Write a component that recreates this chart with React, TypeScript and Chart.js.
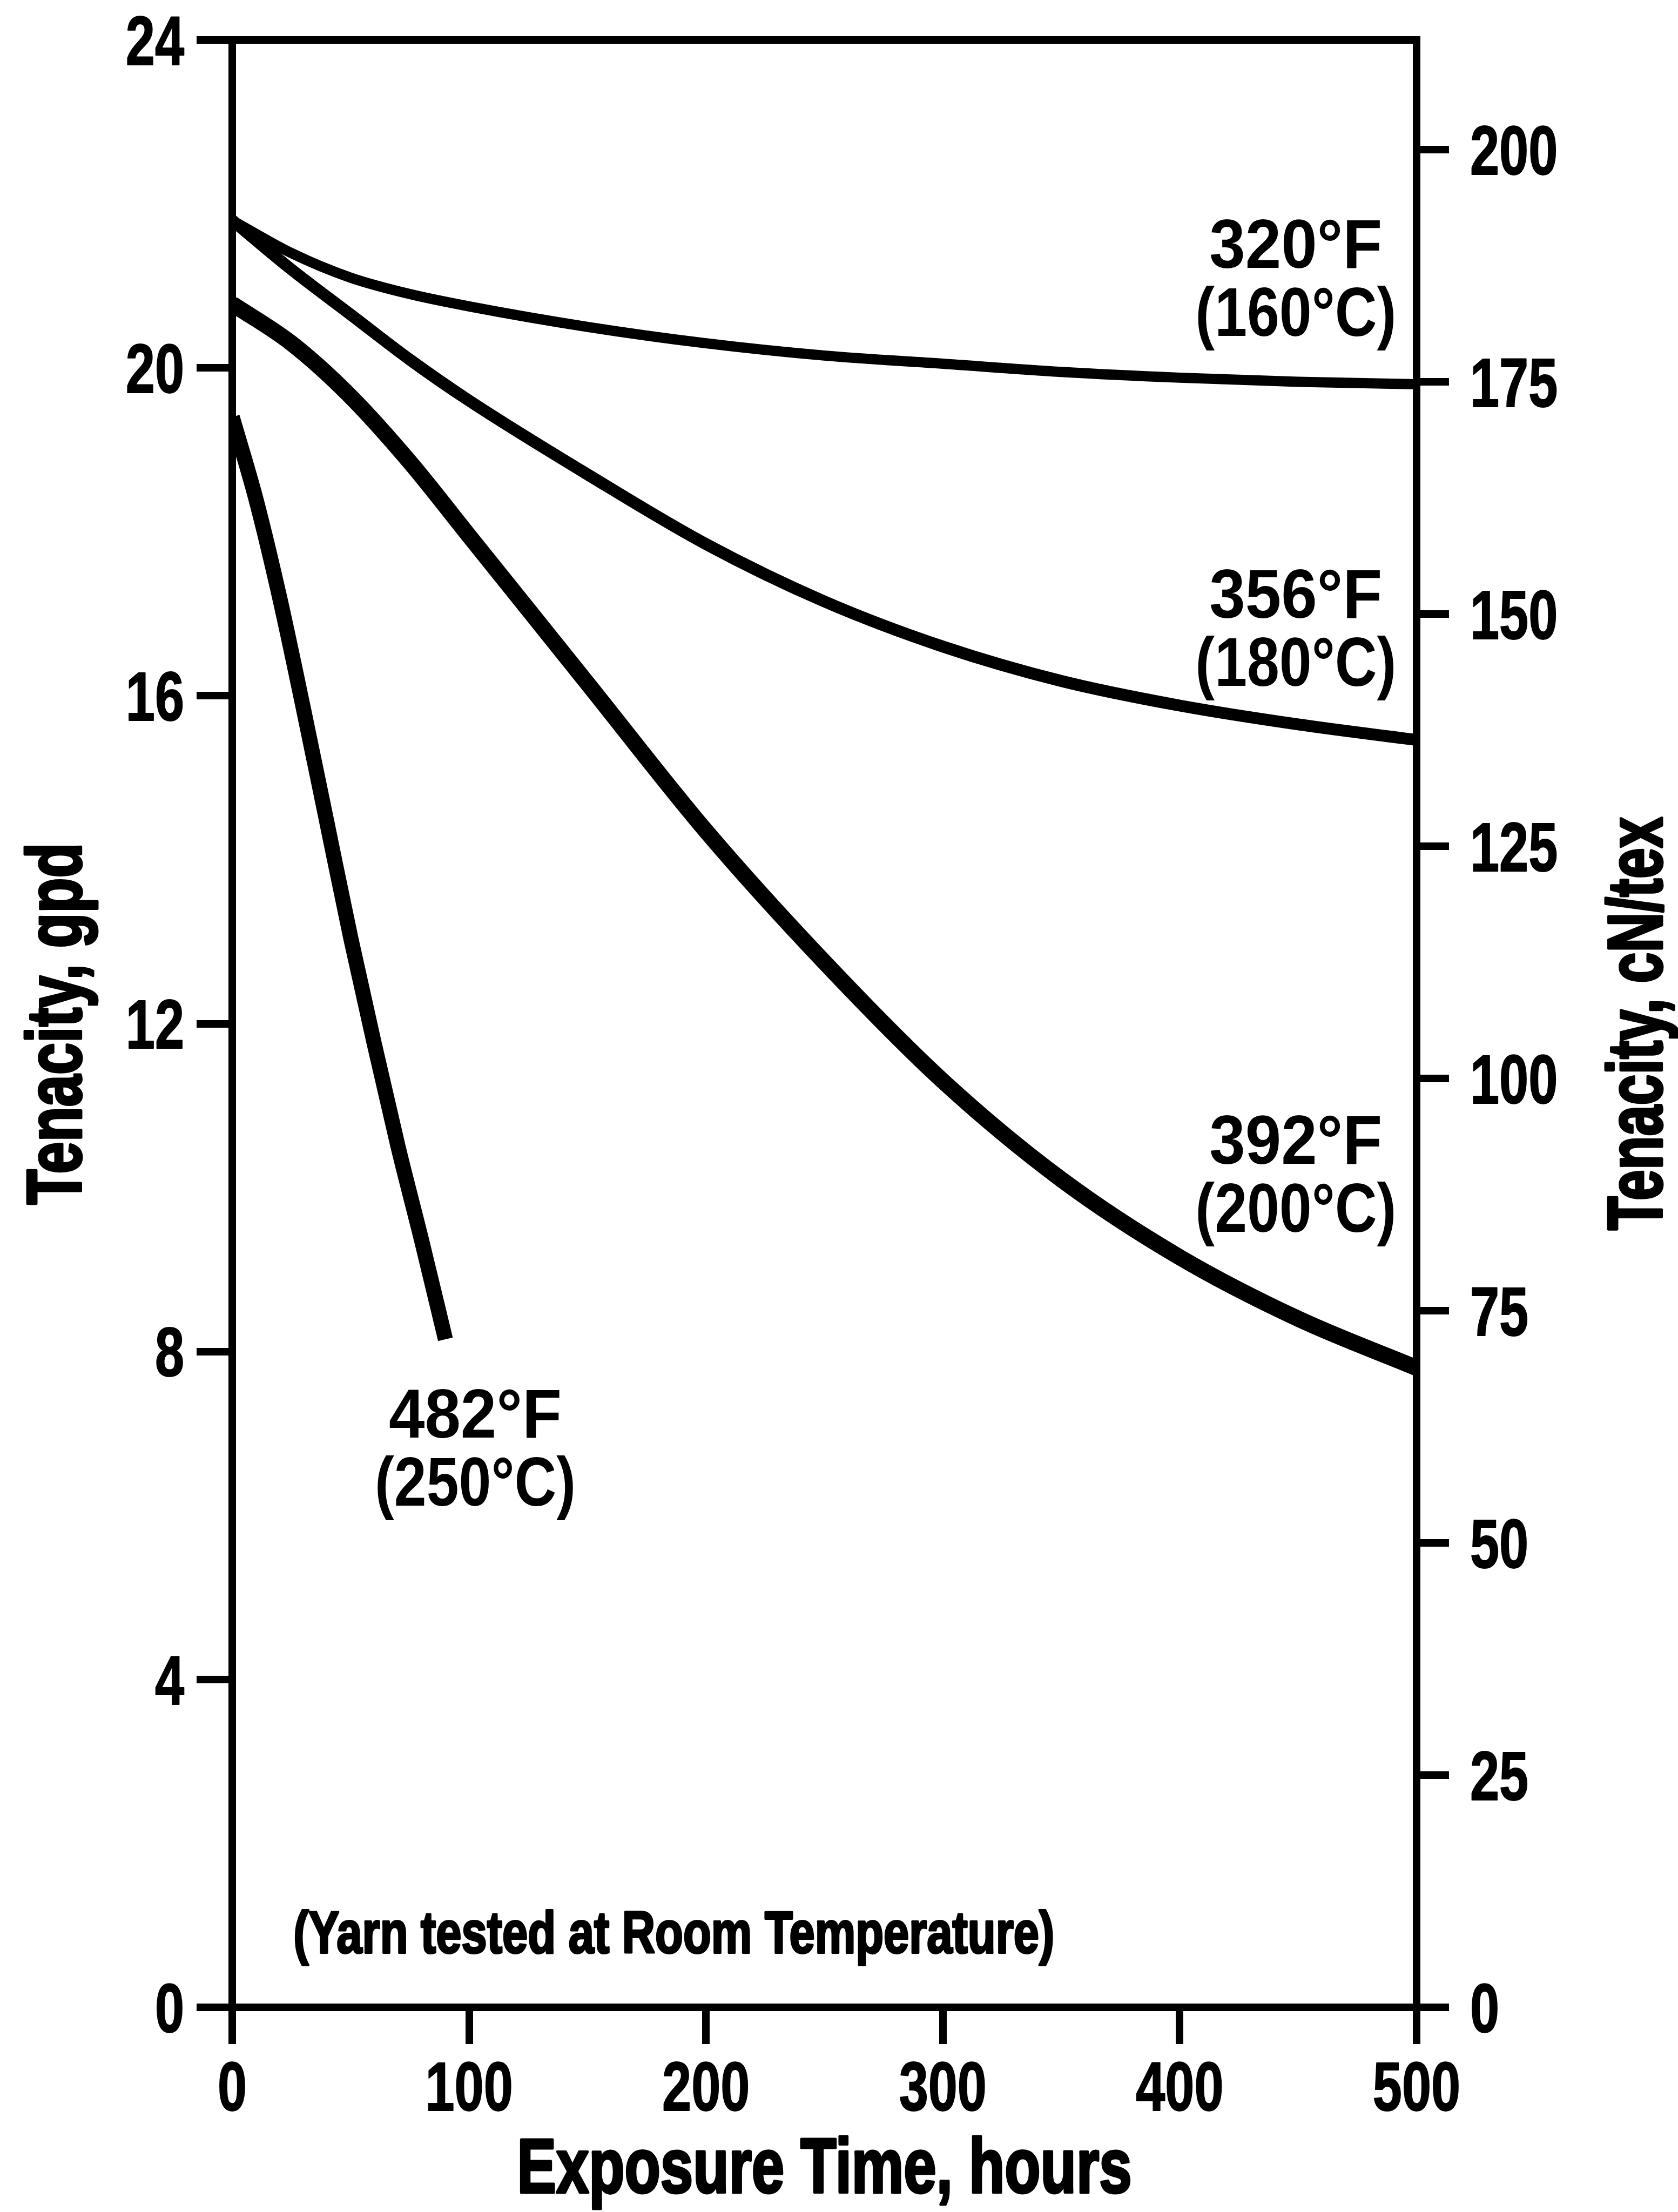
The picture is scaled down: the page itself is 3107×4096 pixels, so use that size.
import React, { useEffect, useRef } from "react";
import { Chart, registerables } from "chart.js";

Chart.register(...registerables);

// ---------- data ----------
const xTickValues = [0, 100, 200, 300, 400, 500];
const leftTickValues = [0, 4, 8, 12, 16, 20, 24];
const rightTickValues = [0, 25, 50, 75, 100, 125, 150, 175, 200];
const GPD_TO_CNTEX = 8.826;

const hours320 = [0, 25, 50, 75, 100, 150, 200, 250, 300, 350, 400, 450, 500];
const tenacity320 = [21.8, 21.4, 21.1, 20.9, 20.75, 20.5, 20.3, 20.15, 20.05, 19.95, 19.88, 19.83, 19.8];

const hours356 = [0, 25, 50, 75, 100, 150, 200, 250, 300, 350, 400, 450, 500];
const tenacity356 = [21.8, 21.2, 20.65, 20.1, 19.6, 18.7, 17.85, 17.15, 16.6, 16.18, 15.88, 15.65, 15.46];

const hours392 = [0, 25, 50, 75, 100, 150, 200, 250, 300, 350, 400, 450, 500];
const tenacity392 = [20.78, 20.3, 19.65, 18.85, 17.95, 16.15, 14.35, 12.75, 11.3, 10.1, 9.15, 8.4, 7.8];

const hours482 = [0, 10, 20, 30, 40, 50, 60, 70, 80, 90];
const tenacity482 = [19.4, 18.4, 17.2, 15.85, 14.45, 13.05, 11.75, 10.5, 9.35, 8.15];

const seriesNames = ["320°F (160°C)", "356°F (180°C)", "392°F (200°C)", "482°F (250°C)"];
const labelLines = [
  ["320°F", "(160°C)"],
  ["356°F", "(180°C)"],
  ["392°F", "(200°C)"],
  ["482°F", "(250°C)"],
];
// label block centres in data units (hours, gpd)
const labelHours = [449, 449, 449, 102.6];
const labelGpd = [21.11, 16.84, 10.18, 6.84];

const noteText = "(Yarn tested at Room Temperature)";
const noteHours = 25.8;
const noteGpd = 0.92;

const xTitle = "Exposure Time, hours";
const leftTitle = "Tenacity, gpd";
const rightTitle = "Tenacity, cN/tex";

// ---------- styles ----------
const TEXT_FONT = '"Liberation Sans", Arial, sans-serif';
const lineWidths = [19, 22, 30, 28];
const AXIS_W = 14;

type TextOpts = { size: number; align: CanvasTextAlign; sx?: number; width?: number; rotate?: number; stroke?: number };

function drawText(ctx: CanvasRenderingContext2D, text: string, x: number, y: number, o: TextOpts) {
  ctx.save();
  ctx.font = `bold ${o.size}px ${TEXT_FONT}`;
  let sx = o.sx ?? 1;
  if (o.width) sx = o.width / ctx.measureText(text).width;
  ctx.translate(x, y);
  if (o.rotate) ctx.rotate(o.rotate);
  ctx.scale(sx, 1);
  ctx.fillStyle = "#000";
  ctx.strokeStyle = "#000";
  ctx.textAlign = o.align;
  ctx.textBaseline = "alphabetic";
  ctx.fillText(text, 0, 0);
  if (o.stroke) {
    ctx.lineWidth = o.stroke;
    ctx.lineJoin = "round";
    ctx.strokeText(text, 0, 0);
  }
  ctx.restore();
}

export default function App() {
  const ref = useRef<HTMLCanvasElement | null>(null);

  useEffect(() => {
    document.body.style.margin = "0";
    const canvas = ref.current!;
    const pts = (xs: number[], ys: number[]) => xs.map((x, i) => ({ x, y: ys[i] }));
    const all = [
      pts(hours320, tenacity320),
      pts(hours356, tenacity356),
      pts(hours392, tenacity392),
      pts(hours482, tenacity482),
    ];
    const datasets = all.map((d, i) => ({
      label: seriesNames[i],
      data: d,
      borderColor: "#000",
      borderWidth: lineWidths[i],
      pointRadius: 0,
      fill: false,
      cubicInterpolationMode: "monotone" as const,
      borderCapStyle: "butt" as const,
      yAxisID: "y",
      xAxisID: "x",
    }));

    const TICK_SIZE = 128;
    const CAP_HALF = TICK_SIZE * 0.716 / 2;
    const TICK_SX = 0.76;

    const extras = {
      id: "extras",
      afterDraw(chart: any) {
        const { ctx, chartArea } = chart;
        const xs = chart.scales.x;
        const ys = chart.scales.y;
        const ys2 = chart.scales.y2;
        ctx.save();
        // top frame line
        ctx.strokeStyle = "#000";
        ctx.lineWidth = AXIS_W;
        ctx.beginPath();
        ctx.moveTo(chartArea.left - AXIS_W / 2, chartArea.top);
        ctx.lineTo(chartArea.right + AXIS_W / 2, chartArea.top);
        ctx.stroke();
        ctx.restore();

        // tick labels from the scales
        ys.ticks.forEach((t: any) => {
          drawText(ctx, String(t.value), chartArea.left - 89, ys.getPixelForValue(t.value) + CAP_HALF, {
            size: TICK_SIZE, align: "right", sx: TICK_SX, stroke: 2,
          });
        });
        ys2.ticks.forEach((t: any) => {
          drawText(ctx, String(t.value), chartArea.right + 99, ys2.getPixelForValue(t.value) + CAP_HALF, {
            size: TICK_SIZE, align: "left", sx: TICK_SX, stroke: 2,
          });
        });
        xs.ticks.forEach((t: any) => {
          drawText(ctx, String(t.value), xs.getPixelForValue(t.value), chartArea.bottom + 145 + CAP_HALF, {
            size: TICK_SIZE, align: "center", sx: TICK_SX, stroke: 2,
          });
        });

        // curve labels
        labelLines.forEach((lines, i) => {
          const cx = xs.getPixelForValue(labelHours[i]);
          const cy = ys.getPixelForValue(labelGpd[i]);
          drawText(ctx, lines[0], cx, cy - 63 + CAP_HALF, { size: TICK_SIZE, align: "center", width: 320 });
          drawText(ctx, lines[1], cx, cy + 63 + CAP_HALF, { size: TICK_SIZE, align: "center", width: 372 });
        });

        // note
        drawText(ctx, noteText, xs.getPixelForValue(noteHours), ys.getPixelForValue(noteGpd) + 39, {
          size: 109, align: "left", width: 1409, stroke: 4,
        });

        const midY = (chartArea.top + chartArea.bottom) / 2;
        // axis titles
        drawText(ctx, xTitle, (chartArea.left + chartArea.right) / 2, 4060, { size: 142, align: "center", width: 1138, stroke: 5 });
        drawText(ctx, leftTitle, 150, midY, { size: 142, align: "center", width: 670, rotate: -Math.PI / 2, stroke: 5 });
        drawText(ctx, rightTitle, 3077, midY, { size: 142, align: "center", width: 765, rotate: -Math.PI / 2, stroke: 5 });
      },
    };

    const gridCommon = (tl: number) => ({
      display: true,
      drawOnChartArea: false,
      drawTicks: true,
      tickLength: tl,
      tickWidth: AXIS_W,
      tickColor: "#000",
      color: "#000",
      lineWidth: AXIS_W,
    });
    const border = { display: true, color: "#000", width: AXIS_W };

    const chart = new Chart(canvas, {
      type: "line",
      data: { datasets },
      options: {
        animation: false,
        responsive: false,
        devicePixelRatio: 1,
        layout: { padding: { left: 0, right: 0, top: 74, bottom: 0 } },
        plugins: { legend: { display: false }, tooltip: { enabled: false } },
        scales: {
          x: {
            type: "linear",
            position: "bottom",
            min: 0,
            max: 500,
            afterBuildTicks: (s: any) => {
              s.ticks = xTickValues.map((v) => ({ value: v }));
            },
            afterFit: (s: any) => {
              s.height = 379;
            },
            ticks: { display: false },
            grid: gridCommon(68),
            border,
            title: { display: false, text: xTitle },
          },
          y: {
            type: "linear",
            position: "left",
            min: 0,
            max: 24,
            afterBuildTicks: (s: any) => {
              s.ticks = leftTickValues.map((v) => ({ value: v }));
            },
            afterFit: (s: any) => {
              s.width = 430;
            },
            ticks: { display: false },
            grid: gridCommon(66),
            border,
            title: { display: false, text: leftTitle },
          },
          y2: {
            type: "linear",
            position: "right",
            display: true,
            min: 0,
            max: 24 * GPD_TO_CNTEX,
            afterBuildTicks: (s: any) => {
              s.ticks = rightTickValues.map((v) => ({ value: v }));
            },
            afterFit: (s: any) => {
              s.width = 484;
            },
            ticks: { display: false },
            grid: gridCommon(60),
            border,
            title: { display: false, text: rightTitle },
          },
        },
      },
      plugins: [extras],
    });
    return () => chart.destroy();
  }, []);

  return (
    <div style={{ width: 3107, height: 4096, background: "#fff", overflow: "hidden" }}>
      <canvas ref={ref} width={3107} height={4096} style={{ display: "block", width: 3107, height: 4096 }} />
    </div>
  );
}
